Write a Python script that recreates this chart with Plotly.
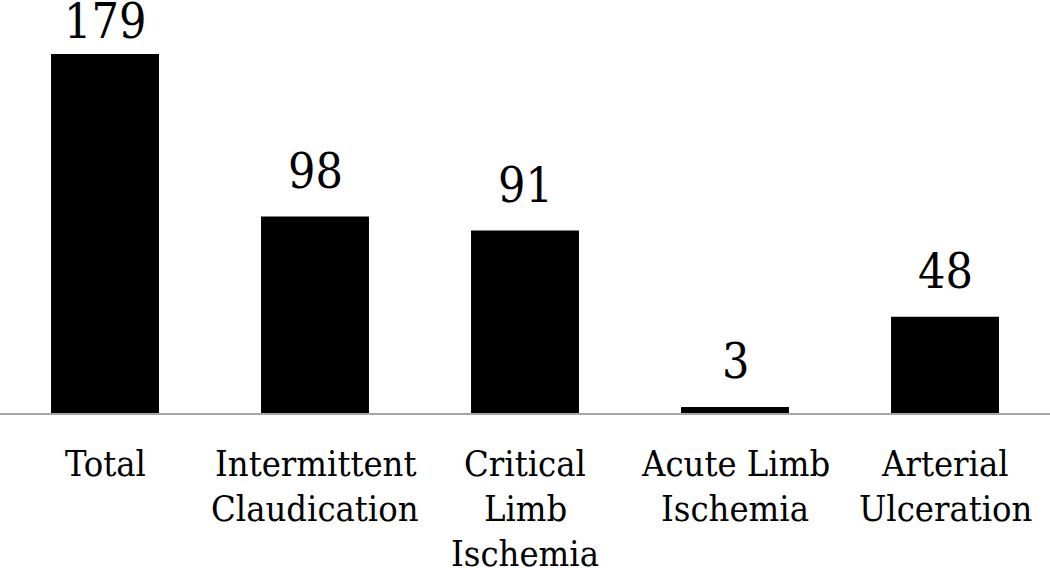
import plotly.graph_objects as go

categories = ["Total", "Intermittent Claudication", "Critical Limb Ischemia",
              "Acute Limb Ischemia", "Arterial Ulceration"]
values = [179, 98, 91, 3, 48]
label_lines = [["Total"], ["Intermittent", "Claudication"], ["Critical", "Limb", "Ischemia"],
               ["Acute Limb", "Ischemia"], ["Arterial", "Ulceration"]]

FONT = "DejaVu Serif Condensed, DejaVu Serif, serif"
W, H = 1050, 568
MB = 155
YMAX = 205.9
PLOT_H = H - MB
VAL_SIZE = 48

fig = go.Figure()
fig.add_trace(go.Bar(
    x=categories, y=values,
    marker=dict(color="black", line=dict(width=0)),
    cliponaxis=False, hoverinfo="skip",
))

annotations = []
# value labels above bars (clamped at the top edge, as in the original)
desc = 0.236 * VAL_SIZE + 1
for cat, v in zip(categories, values):
    bar_top_px = PLOT_H - v * PLOT_H / YMAX
    shift = min(28 - desc, bar_top_px - 39 - desc)
    annotations.append(dict(
        x=cat, xref="x", y=v, yref="y", yanchor="bottom", xanchor="center",
        text=str(v), showarrow=False, yshift=shift,
        font=dict(family=FONT, size=VAL_SIZE, color="black"),
    ))
# category labels, one annotation per line
for cat, lines in zip(categories, label_lines):
    for i, line in enumerate(lines):
        annotations.append(dict(
            x=cat, xref="x", y=0, yref="paper", yanchor="top", xanchor="center",
            text=line, showarrow=False, yshift=-27.6 - 45 * i,
            font=dict(family=FONT, size=36, color="black"),
        ))

fig.update_layout(
    width=W, height=H,
    margin=dict(l=0, r=0, t=0, b=MB),
    paper_bgcolor="white", plot_bgcolor="white",
    bargap=0.486, showlegend=False, hovermode=False,
    annotations=annotations,
    xaxis=dict(showticklabels=False, ticks="", showgrid=False, showline=True,
               linecolor="#a6a6a6", linewidth=2, range=[-0.5, 4.5]),
    yaxis=dict(visible=False, range=[0, YMAX], showgrid=False, zeroline=False),
)

fig.write_html("out.html", config={"displayModeBar": False},
               post_script="document.body.style.margin='0';")
